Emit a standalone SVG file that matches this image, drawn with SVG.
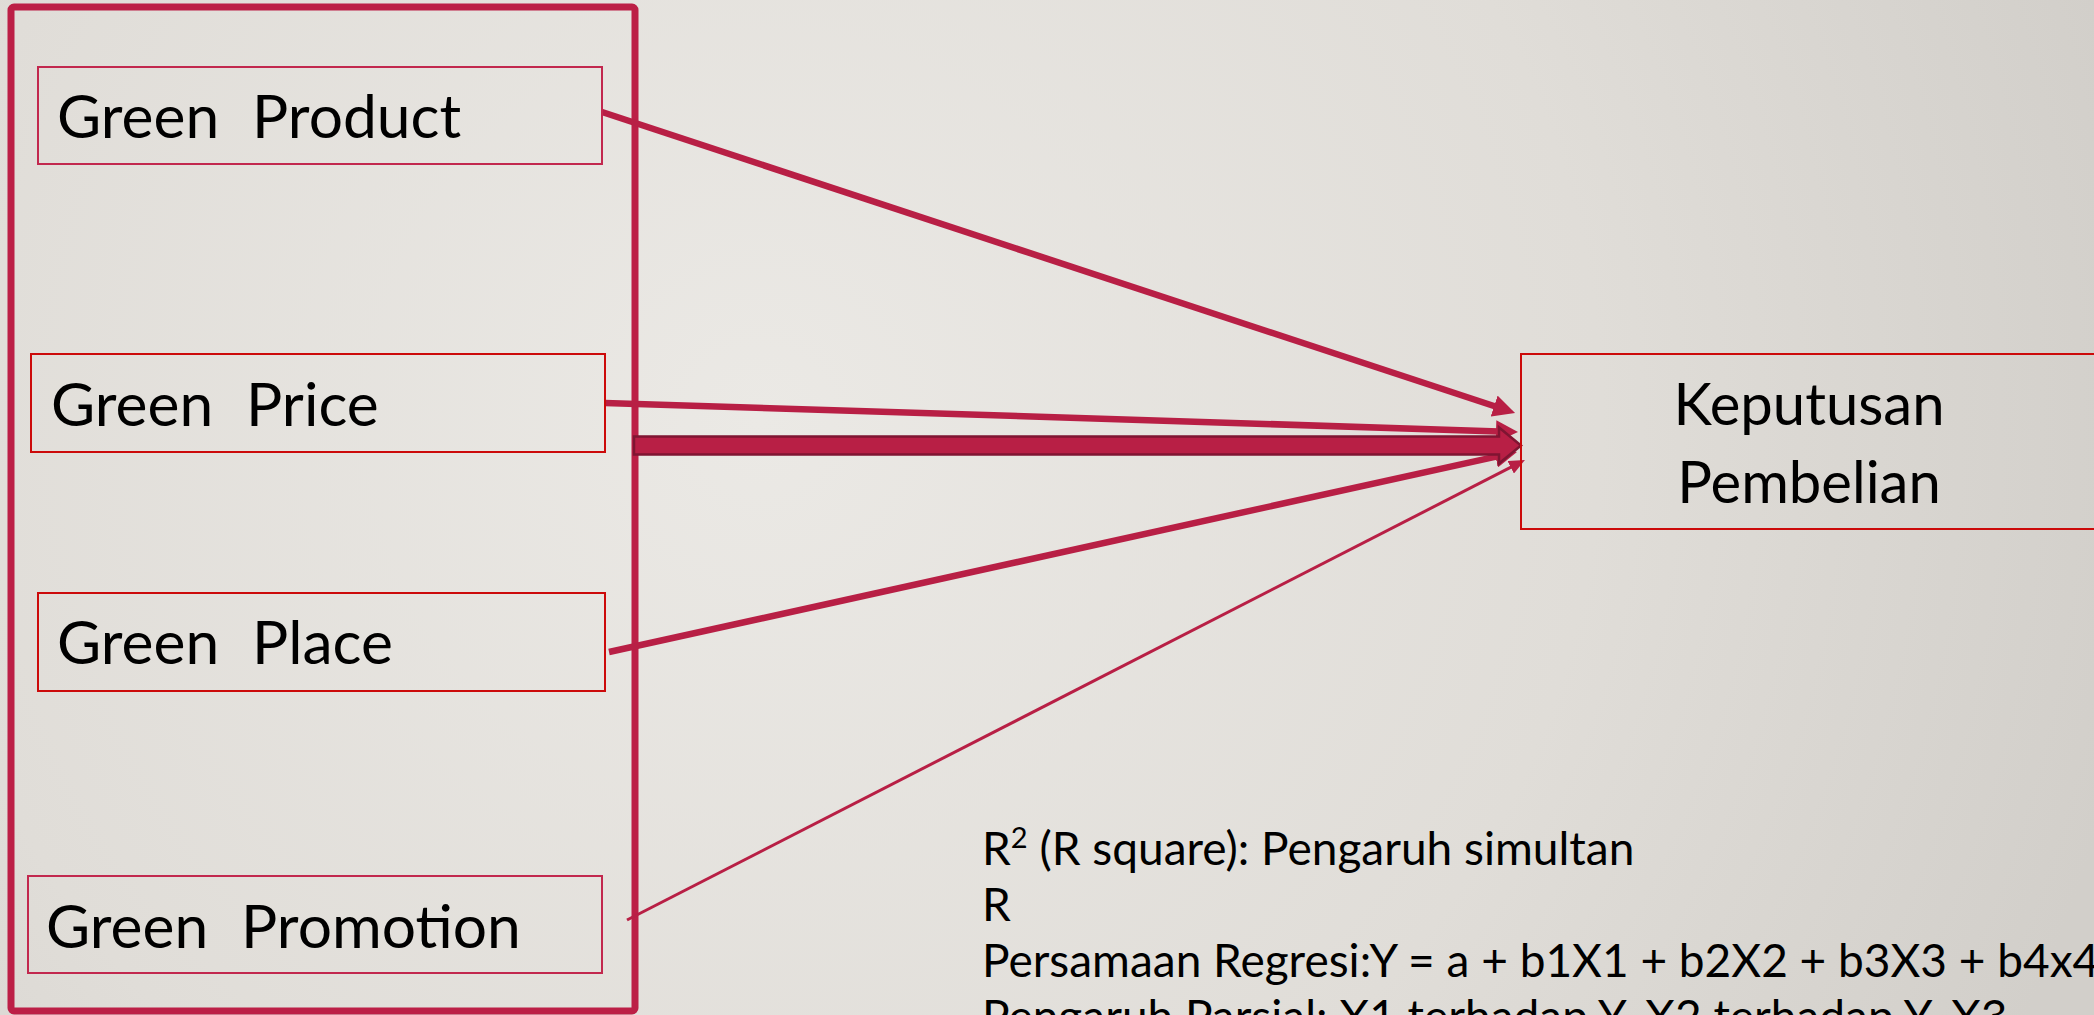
<svg xmlns="http://www.w3.org/2000/svg" width="2094" height="1015" viewBox="0 0 2094 1015">
  <defs>
    <radialGradient id="bg" cx="760" cy="420" r="1400" gradientUnits="userSpaceOnUse">
      <stop offset="0" stop-color="#ebe9e5"/>
      <stop offset="0.6" stop-color="#e0ddd8"/>
      <stop offset="1" stop-color="#d2cfca"/>
    </radialGradient>
    <marker id="head" markerUnits="userSpaceOnUse" markerWidth="22" markerHeight="22" refX="3" refY="11" orient="auto" viewBox="0 0 22 22">
      <path d="M0,0 L22,11 L0,22 z" fill="#b81f45"/>
    </marker>
    <marker id="headSmall" markerUnits="userSpaceOnUse" markerWidth="16" markerHeight="14" refX="2" refY="7" orient="auto" viewBox="0 0 16 14">
      <path d="M0,0 L16,7 L0,14 z" fill="#b81f45"/>
    </marker>
    <style>
      .lbl { font-family: Lato, "Liberation Sans", sans-serif; font-size: 58px; fill: #000; }
      .green { font-size: 60.5px; word-spacing: 1px; }
      .note { font-family: Lato, "Liberation Sans", sans-serif; font-size: 46px; fill: #000; }
      .boxA { fill: none; stroke: #c2284e; stroke-width: 2; }
      .boxB { fill: none; stroke: #cc0a0a; stroke-width: 2; }
      .conn { fill: none; stroke: #b81f45; stroke-width: 6.5; marker-end: url(#head); }
    </style>
  </defs>
  <rect x="0" y="0" width="2094" height="1015" fill="url(#bg)"/>

  <g id="group-frame">
    <rect x="11" y="7" width="624" height="1004" rx="3" fill="none" stroke="#bc1f46" stroke-width="7"/>
  </g>

  <g id="connectors">
    <line class="conn" x1="602" y1="112" x2="1497" y2="407"/>
    <line class="conn" x1="605" y1="403" x2="1499" y2="431.4"/>
    <line class="conn" x1="609" y1="652" x2="1498.4" y2="456.1"/>
    <line x1="627" y1="920" x2="1512.5" y2="466.4" stroke="#b81f45" stroke-width="3" marker-end="url(#headSmall)"/>
    <path d="M634,436.5 L1499,436.5 L1499,427.5 L1521,445.5 L1499,463.5 L1499,454.5 L634,454.5 Z" fill="#b81f45" stroke="#7f1532" stroke-width="2.5" stroke-linejoin="miter"/>
  </g>

  <g id="node-green-product">
    <rect class="boxA" x="38" y="67" width="564" height="97"/>
    <text class="lbl green" x="57" y="138" xml:space="preserve">Green  Product</text>
  </g>
  <g id="node-green-price">
    <rect class="boxB" x="31" y="354" width="574" height="98"/>
    <text class="lbl green" x="51" y="426" xml:space="preserve">Green  Price</text>
  </g>
  <g id="node-green-place">
    <rect class="boxB" x="38" y="593" width="567" height="98"/>
    <text class="lbl green" x="57" y="664" xml:space="preserve">Green  Place</text>
  </g>
  <g id="node-green-promotion">
    <rect class="boxA" x="28" y="876" width="574" height="97"/>
    <text class="lbl green" x="46" y="948" xml:space="preserve">Green  Promotion</text>
  </g>
  <g id="node-keputusan">
    <rect class="boxB" x="1521" y="354" width="577" height="175"/>
    <text class="lbl" x="1809" y="425" text-anchor="middle">Keputusan</text>
    <text class="lbl" x="1809" y="503" text-anchor="middle">Pembelian</text>
  </g>

  <g id="notes">
    <text class="note" x="982" y="865">R<tspan font-size="29" dy="-17">2</tspan><tspan dy="17"> (R square): Pengaruh simultan</tspan></text>
    <text class="note" x="982" y="921">R</text>
    <text class="note" x="982" y="977">Persamaan Regresi:Y = a + b1X1 + b2X2 + b3X3 + b4x4</text>
    <text class="note" x="982" y="1033">Pengaruh Parsial: X1 terhadap Y, X2 terhadap Y, X3</text>
  </g>
</svg>
